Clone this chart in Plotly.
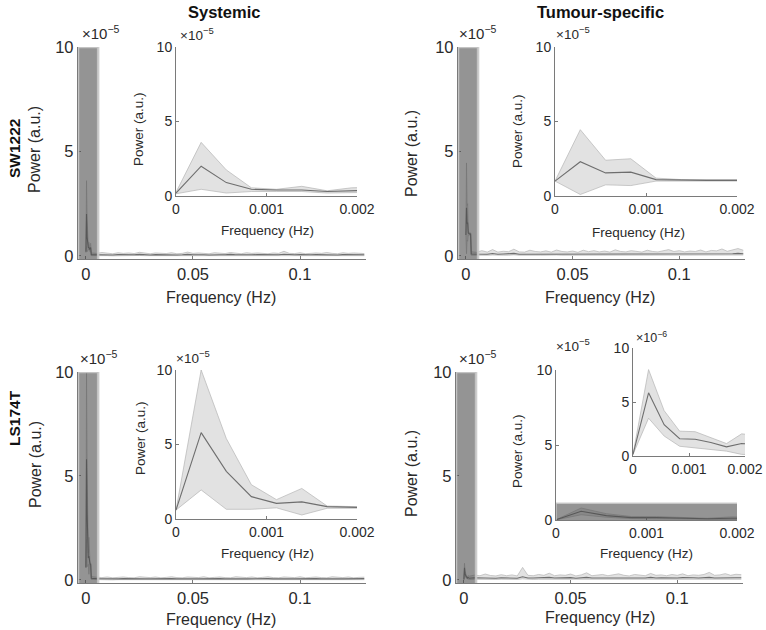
import plotly.graph_objects as go

W, H = 766, 630

# ---------------- DATA (power in units of 1e-5 unless stated) ----------------
inset_freq = [0.0, 0.000278, 0.000556, 0.000833, 0.00111, 0.00139, 0.00167, 0.00194, 0.00222]

# SW1222 systemic
sw_sys_mean = [0.2, 2.0, 0.9, 0.45, 0.4, 0.4, 0.3, 0.35, 0.4]
sw_sys_up   = [0.25, 3.6, 1.75, 0.55, 0.45, 0.65, 0.35, 0.55, 0.6]
sw_sys_lo   = [0.15, 0.45, 0.2, 0.3, 0.3, 0.3, 0.2, 0.2, 0.25]

# SW1222 tumour-specific
sw_tum_mean = [1.0, 2.3, 1.55, 1.6, 1.1, 1.05, 1.05, 1.05, 1.05]
sw_tum_up   = [1.0, 4.45, 2.4, 2.5, 1.2, 1.1, 1.1, 1.1, 1.1]
sw_tum_lo   = [1.0, 0.1, 0.75, 0.7, 1.0, 1.0, 1.0, 1.0, 1.0]

# LS174T systemic
ls_sys_mean = [0.6, 5.8, 3.2, 1.5, 1.05, 1.15, 0.83, 0.75, 0.75]
ls_sys_up   = [0.6, 10.0, 5.4, 2.3, 1.3, 2.05, 0.87, 0.8, 0.8]
ls_sys_lo   = [0.6, 1.95, 0.65, 0.65, 0.75, 0.27, 0.72, 0.72, 0.72]

# LS174T tumour-specific (units of 1e-6)
ls_tum_mean = [0.15, 5.85, 2.9, 1.6, 1.55, 1.25, 0.85, 1.15, 1.1]
ls_tum_up   = [0.15, 8.0, 4.2, 2.3, 2.25, 1.7, 1.15, 2.05, 1.9]
ls_tum_lo   = [0.15, 3.5, 1.85, 0.9, 0.75, 0.6, 0.45, 0.15, 0.1]

# broadband baseline of the full spectra, sampled every 0.0025 Hz from 0.0025 to 0.13 Hz
base_freq = [round(0.0025 * (i + 1), 4) for i in range(52)]

sw_sys_base_mean = [0.06,0.05,0.07,0.05,0.04,0.06,0.05,0.06,0.05,0.07,0.05,0.04,0.06,
                    0.05,0.05,0.06,0.04,0.05,0.07,0.05,0.06,0.05,0.04,0.06,0.05,0.05,
                    0.07,0.05,0.04,0.06,0.05,0.06,0.05,0.04,0.06,0.05,0.08,0.05,0.05,
                    0.06,0.04,0.05,0.06,0.05,0.07,0.05,0.04,0.06,0.05,0.06,0.05,0.05]
sw_sys_base_up   = [0.14,0.12,0.16,0.12,0.10,0.15,0.12,0.14,0.11,0.17,0.12,0.10,0.14,
                    0.12,0.11,0.15,0.10,0.12,0.18,0.12,0.14,0.12,0.10,0.15,0.12,0.11,
                    0.16,0.12,0.10,0.15,0.12,0.14,0.11,0.10,0.14,0.12,0.22,0.12,0.11,
                    0.15,0.10,0.12,0.14,0.12,0.16,0.12,0.10,0.15,0.12,0.14,0.12,0.11]
sw_sys_base_lo   = [0.01,0.01,0.02,0.01,0.00,0.01,0.01,0.01,0.01,0.02,0.01,0.00,0.01,
                    0.01,0.01,0.01,0.00,0.01,0.02,0.01,0.01,0.01,0.00,0.01,0.01,0.01,
                    0.02,0.01,0.00,0.01,0.01,0.01,0.01,0.00,0.01,0.01,0.02,0.01,0.01,
                    0.01,0.00,0.01,0.01,0.01,0.02,0.01,0.00,0.01,0.01,0.01,0.01,0.01]

sw_tum_base_mean = [0.09,0.08,0.10,0.08,0.11,0.08,0.09,0.09,0.12,0.08,0.08,0.10,0.09,
                    0.08,0.10,0.08,0.11,0.09,0.08,0.09,0.08,0.10,0.09,0.10,0.08,0.09,
                    0.08,0.11,0.09,0.08,0.10,0.09,0.08,0.10,0.09,0.08,0.09,0.11,0.09,
                    0.10,0.08,0.09,0.09,0.10,0.08,0.10,0.09,0.11,0.09,0.10,0.12,0.10]
sw_tum_base_up   = [0.20,0.17,0.25,0.18,0.30,0.18,0.22,0.20,0.32,0.19,0.18,0.27,0.21,
                    0.19,0.24,0.18,0.28,0.21,0.19,0.23,0.17,0.27,0.20,0.25,0.19,0.23,
                    0.18,0.29,0.21,0.19,0.25,0.22,0.18,0.27,0.21,0.19,0.23,0.30,0.21,
                    0.25,0.19,0.23,0.21,0.28,0.19,0.26,0.24,0.33,0.22,0.30,0.35,0.27]
sw_tum_base_lo   = [0.03,0.02,0.04,0.03,0.04,0.02,0.03,0.03,0.05,0.03,0.02,0.04,0.03,
                    0.03,0.04,0.02,0.04,0.03,0.03,0.03,0.02,0.04,0.03,0.04,0.03,0.03,
                    0.02,0.04,0.03,0.03,0.04,0.03,0.02,0.04,0.03,0.03,0.03,0.04,0.03,
                    0.04,0.03,0.03,0.03,0.04,0.03,0.04,0.03,0.05,0.03,0.04,0.05,0.04]

ls_sys_base_mean = [0.08,0.06,0.05,0.06,0.04,0.05,0.06,0.05,0.04,0.06,0.05,0.05,0.06,
                    0.04,0.05,0.06,0.05,0.04,0.06,0.05,0.05,0.06,0.04,0.05,0.06,0.05,
                    0.04,0.06,0.05,0.05,0.06,0.04,0.05,0.06,0.05,0.04,0.06,0.05,0.05,
                    0.06,0.04,0.05,0.06,0.05,0.04,0.06,0.05,0.05,0.06,0.04,0.05,0.06]
ls_sys_base_up   = [0.16,0.13,0.11,0.14,0.10,0.12,0.14,0.11,0.10,0.15,0.12,0.11,0.14,
                    0.10,0.12,0.15,0.11,0.10,0.14,0.12,0.11,0.15,0.10,0.12,0.14,0.11,
                    0.10,0.15,0.12,0.11,0.14,0.10,0.12,0.15,0.11,0.10,0.14,0.12,0.11,
                    0.15,0.10,0.12,0.14,0.11,0.10,0.15,0.12,0.11,0.14,0.10,0.12,0.13]
ls_sys_base_lo   = [0.02,0.01,0.01,0.01,0.00,0.01,0.01,0.01,0.00,0.01,0.01,0.01,0.01,
                    0.00,0.01,0.01,0.01,0.00,0.01,0.01,0.01,0.01,0.00,0.01,0.01,0.01,
                    0.00,0.01,0.01,0.01,0.01,0.00,0.01,0.01,0.01,0.00,0.01,0.01,0.01,
                    0.01,0.00,0.01,0.01,0.01,0.00,0.01,0.01,0.01,0.01,0.00,0.01,0.01]

ls_tum_base_mean = [0.08,0.10,0.09,0.11,0.09,0.08,0.10,0.09,0.10,0.08,0.15,0.09,0.09,
                    0.10,0.09,0.12,0.09,0.10,0.09,0.11,0.08,0.10,0.12,0.09,0.09,0.10,
                    0.09,0.10,0.11,0.09,0.08,0.10,0.10,0.09,0.12,0.09,0.10,0.09,0.10,
                    0.09,0.11,0.09,0.10,0.09,0.10,0.12,0.09,0.10,0.11,0.09,0.10,0.10]
ls_tum_base_up   = [0.18,0.23,0.20,0.28,0.21,0.19,0.25,0.20,0.24,0.19,0.60,0.22,0.20,
                    0.26,0.22,0.32,0.20,0.24,0.22,0.28,0.19,0.24,0.34,0.20,0.22,0.26,
                    0.20,0.24,0.29,0.22,0.19,0.26,0.24,0.20,0.31,0.22,0.24,0.20,0.26,
                    0.22,0.29,0.20,0.24,0.22,0.26,0.36,0.22,0.24,0.30,0.22,0.27,0.25]
ls_tum_base_lo   = [0.02,0.03,0.02,0.04,0.03,0.02,0.03,0.02,0.03,0.02,0.05,0.03,0.02,
                    0.03,0.03,0.04,0.02,0.03,0.03,0.04,0.02,0.03,0.04,0.02,0.03,0.03,
                    0.02,0.03,0.04,0.03,0.02,0.03,0.03,0.02,0.04,0.03,0.03,0.02,0.03,
                    0.03,0.04,0.02,0.03,0.03,0.03,0.04,0.03,0.03,0.04,0.03,0.03,0.03]

col_titles = ["Systemic", "Tumour-specific"]
row_titles = ["SW1222", "LS174T"]
main_xticks = [0, 0.05, 0.1]
main_xtext = ["0", "0.05", "0.1"]
inset_xticks = [0, 0.001, 0.002]
inset_xtext = ["0", "0.001", "0.002"]
yticks = [0, 5, 10]
ytext = ["0", "5", "10"]

# ---------------- STYLE ----------------
FONT = "Liberation Sans, Arial, Helvetica, sans-serif"
TXT = "#2a2a2a"
AX = "#7a7a7a"
BAND = "#e2e2e2"
BAND_EDGE = "#b4b4b4"
MEAN = "#6e6e6e"


def xd(a, b):
    return [a / W, b / W]


def yd(top, bottom):
    return [1 - bottom / H, 1 - top / H]


fig = go.Figure()
layout = {}


def add_axes(n, xdom, ydom, xr, yr, xt, xtt, main=True, tfs=14):
    xs = "xaxis" if n == 1 else f"xaxis{n}"
    ys = "yaxis" if n == 1 else f"yaxis{n}"
    common = dict(showgrid=False, zeroline=False, showline=True, automargin=False,
                  linecolor=AX, linewidth=1.4 if main else 1,
                  ticks="inside", ticklen=3, tickcolor=AX,
                  tickfont=dict(family=FONT, size=tfs, color=TXT))
    layout[xs] = dict(domain=xdom, range=xr, tickvals=xt, ticktext=xtt,
                      anchor=f"y{n if n > 1 else ''}", **common)
    layout[ys] = dict(domain=ydom, range=yr, tickvals=yticks, ticktext=ytext,
                      anchor=f"x{n if n > 1 else ''}", **common)


def add_band(n, x, up, lo, mean):
    xr = f"x{n if n > 1 else ''}"
    yr = f"y{n if n > 1 else ''}"
    fig.add_trace(go.Scatter(x=x, y=up, mode="lines", line=dict(color=BAND_EDGE, width=0.7),
                             xaxis=xr, yaxis=yr, showlegend=False, hoverinfo="skip"))
    fig.add_trace(go.Scatter(x=x, y=lo, mode="lines", line=dict(color=BAND_EDGE, width=0.7),
                             fill="tonexty", fillcolor=BAND,
                             xaxis=xr, yaxis=yr, showlegend=False, hoverinfo="skip"))
    fig.add_trace(go.Scatter(x=x, y=mean, mode="lines", line=dict(color=MEAN, width=1.1),
                             xaxis=xr, yaxis=yr, showlegend=False))


MAIN_XR = [-0.0037, 0.1308]
MAIN_YR = [-0.15, 10]

panels = [
    # (main n, inset n, main x px, main y px, inset x px, inset y px, data)
    (1, 2, (78, 366), (47, 259), (176, 357), (47, 196),
     (sw_sys_mean, sw_sys_up, sw_sys_lo, sw_sys_base_mean, sw_sys_base_up, sw_sys_base_lo, 1.0)),
    (3, 4, (458, 745), (47, 259), (555, 737), (47, 196),
     (sw_tum_mean, sw_tum_up, sw_tum_lo, sw_tum_base_mean, sw_tum_base_up, sw_tum_base_lo, 1.0)),
    (5, 6, (78, 366), (372, 583), (176, 357), (370, 519),
     (ls_sys_mean, ls_sys_up, ls_sys_lo, ls_sys_base_mean, ls_sys_base_up, ls_sys_base_lo, 1.0)),
    (7, 8, (456, 743), (372, 583), (556, 737), (370, 520),
     (ls_tum_mean, ls_tum_up, ls_tum_lo, ls_tum_base_mean, ls_tum_base_up, ls_tum_base_lo, 0.1)),
]

shapes = []
for mn, inn, mx, my, ix, iy, d in panels:
    mean, up, lo, bmean, bup, blo, scale = d
    add_axes(mn, xd(*mx), yd(*my), MAIN_XR, MAIN_YR, main_xticks, main_xtext, True, 16.5)
    add_axes(inn, xd(*ix), yd(*iy), [0, 0.002], [0, 10], inset_xticks, inset_xtext, False, 14)
    full_x = inset_freq + base_freq
    add_band(mn, full_x, [v * scale for v in up] + bup, [v * scale for v in lo] + blo,
             [v * scale for v in mean] + bmean)
    add_band(inn, inset_freq, [v * scale for v in up], [v * scale for v in lo],
             [v * scale for v in mean])
    shapes.append(dict(type="rect", xref=f"x{mn}" if mn > 1 else "x", yref=f"y{mn}" if mn > 1 else "y",
                       x0=-0.0037, x1=0.0057, y0=-0.3, y1=10, layer="above",
                       fillcolor="rgba(70,70,70,0.58)", line=dict(color="rgba(200,200,200,0.9)", width=2.5)))

# inner inset of LS174T tumour-specific (units 1e-6)
add_axes(9, xd(633, 745), yd(348, 456), [0, 0.002], [0, 10], inset_xticks, inset_xtext, False, 14)
add_band(9, inset_freq, ls_tum_up, ls_tum_lo, ls_tum_mean)
shapes.append(dict(type="rect", xref="x8", yref="y8", x0=0, x1=0.00202, y0=-0.05, y1=1.12,
                   layer="above", fillcolor="rgba(70,70,70,0.58)",
                   line=dict(color="rgba(200,200,200,0.9)", width=1.5)))

ann = []


def text(x, y, s, size=14, bold=False, angle=0, xanchor="center", color=TXT):
    ann.append(dict(x=x / W, y=1 - y / H, xref="paper", yref="paper", text=f"<b>{s}</b>" if bold else s,
                    showarrow=False, textangle=angle, xanchor=xanchor, yanchor="middle",
                    font=dict(family=FONT, size=size, color=color)))


# column titles and row titles
text(224, 12, col_titles[0], 16.5, bold=True, color="#111")
text(600, 12, col_titles[1], 16.5, bold=True, color="#111")
text(14, 149, row_titles[0], 15.5, bold=True, angle=-90, color="#111")
text(14, 418, row_titles[1], 15.5, bold=True, angle=-90, color="#111")

# main axis titles
for x, y in [(34, 150), (411, 153), (35, 465), (411, 473)]:
    text(x, y, "Power (a.u.)", 16, angle=-90)
for x, y in [(221, 297), (600, 297), (221, 619), (600, 617)]:
    text(x, y, "Frequency (Hz)", 16)
# inset axis titles
for x, y in [(139, 129), (517, 131), (140, 438), (517, 451)]:
    text(x, y, "Power (a.u.)", 13.5, angle=-90)
for x, y in [(267, 230), (638, 232), (267, 553), (646, 553)]:
    text(x, y, "Frequency (Hz)", 13.5)

# exponent labels
for x, y, s, sz in [(80, 32, "−5", 15), (178, 34, "−5", 13.5), (457, 32, "−5", 15), (554, 33, "−5", 13.5),
                    (78, 357, "−5", 15), (174, 357, "−5", 13.5), (457, 357, "−5", 15), (554, 345, "−5", 13.5),
                    (634, 337, "−6", 12.5)]:
    text(x, y, f"×10<sup>{s}</sup>", sz, xanchor="left")

fig.update_layout(width=W, height=H, margin=dict(l=0, r=0, t=0, b=0, autoexpand=False),
                  template="none",
                  paper_bgcolor="white", plot_bgcolor="rgba(0,0,0,0)",
                  showlegend=False, shapes=shapes, annotations=ann, **layout)

# page reset (no body margin) applied synchronously, right after the plot call
PAGE_RESET = ("document.documentElement.style.margin='0px';"
              "document.body.style.margin='0px';document.body.style.padding='0px';"
              "document.documentElement.style.overflow='hidden';")
fig.write_html("out.html", config={"displayModeBar": False},
               post_script="});" + PAGE_RESET + "(function(){")
